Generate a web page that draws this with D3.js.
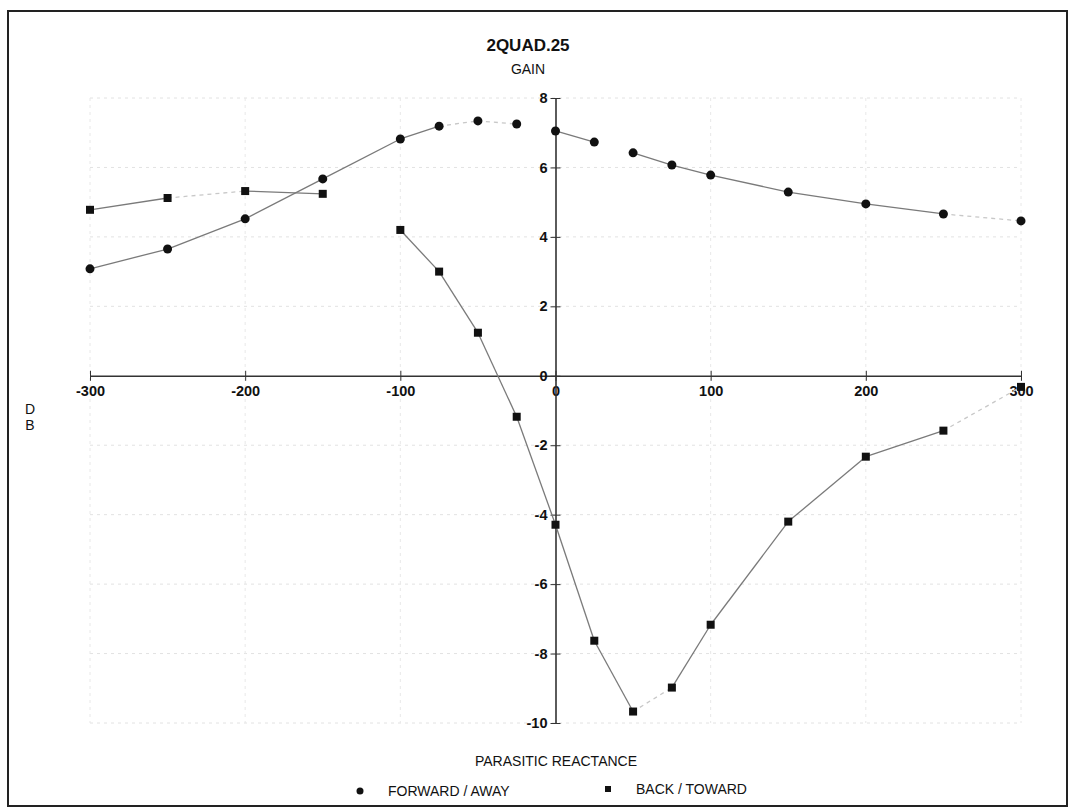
<!DOCTYPE html>
<html>
<head>
<meta charset="utf-8">
<script src="https://cdn.jsdelivr.net/npm/d3@7"></script>
<style>
  body { margin: 0; background: #fff; }
  text { font-family: "Liberation Sans", Arial, sans-serif; fill: #111; }
  .tick text { font-size: 14.5px; }
</style>
</head>
<body>
<script>
// Chart data
var reactance = [-300, -250, -200, -150, -100, -75, -50, -25, 0, 25, 50, 75, 100, 150, 200, 250, 300];
var forwardGain = [3.08, 3.65, 4.52, 5.67, 6.82, 7.19, 7.34, 7.25, 7.05, 6.73, 6.42, 6.07, 5.78, 5.29, 4.95, 4.66, 4.46];
var backGain = [4.78, 5.12, 5.32, 5.24, 4.2, 3.0, 1.24, -1.18, -4.29, -7.63, -9.67, -8.98, -7.17, -4.2, -2.33, -1.58, -0.32];
var xTicks = [-300, -200, -100, 0, 100, 200, 300];
var yTicks = [-10, -8, -6, -4, -2, 0, 2, 4, 6, 8];

// segments that came out faint or missing on the scan (by starting x)
var forwardFaint = [-75, -50, 250];
var forwardGaps = [-25, 25];
var backFaint = [-250, 50, 250];
var backGaps = [-150];

var svgWidth = 1071;
var svgHeight = 811;

var svg = d3.select("body")
  .append("svg")
  .attr("width", svgWidth)
  .attr("height", svgHeight);

// outer frame
svg.append("rect")
  .attr("x", 8).attr("y", 11)
  .attr("width", 1059).attr("height", 795)
  .attr("fill", "#fff")
  .attr("stroke", "#222")
  .attr("stroke-width", 2);

var xScale = d3.scaleLinear().domain([-300, 300]).range([90, 1021]);
var yScale = d3.scaleLinear().domain([-10, 8]).range([723, 98]);

// faint grid
svg.append("g")
  .selectAll("line")
  .data(yTicks.filter(d => d != 0))
  .enter()
  .append("line")
  .attr("x1", xScale(-300)).attr("x2", xScale(300))
  .attr("y1", d => yScale(d)).attr("y2", d => yScale(d))
  .attr("stroke", "#e2e2e2")
  .attr("stroke-dasharray", "3,4");

svg.append("g")
  .selectAll("line")
  .data(xTicks.filter(d => d != 0))
  .enter()
  .append("line")
  .attr("x1", d => xScale(d)).attr("x2", d => xScale(d))
  .attr("y1", yScale(8)).attr("y2", yScale(-10))
  .attr("stroke", "#e8e8e8")
  .attr("stroke-dasharray", "3,4");

// axes crossing at the origin, plain hyphen for negatives like the original
var bottomAxis = d3.axisBottom(xScale).tickValues(xTicks).tickSize(5).tickSizeOuter(0).tickFormat(d => String(d));
var leftAxis = d3.axisLeft(yScale).tickValues(yTicks).tickSize(5).tickSizeOuter(0).tickFormat(d => String(d));

var xAxisG = svg.append("g")
  .attr("transform", `translate(0, ${yScale(0)})`)
  .call(bottomAxis);
xAxisG.select(".domain").attr("stroke", "#333").attr("stroke-width", 1.6);
xAxisG.selectAll(".tick line").attr("y1", -5).attr("y2", 5).attr("stroke", "#333");
xAxisG.selectAll(".tick text").attr("y", 10).attr("font-weight", "bold").attr("fill", "#222");

var yAxisG = svg.append("g")
  .attr("transform", `translate(${xScale(0)}, 0)`)
  .call(leftAxis);
yAxisG.select(".domain").attr("stroke", "#333").attr("stroke-width", 1.6);
yAxisG.selectAll(".tick line").attr("x1", -5).attr("x2", 5).attr("stroke", "#333");
yAxisG.selectAll(".tick text").attr("x", -8).attr("font-weight", "bold").attr("fill", "#222");

// line segments between neighbouring points
function drawSeries(values, faint, gaps) {
  var pts = reactance.map((x, i) => ({ x: x, y: values[i] }));
  var segs = d3.pairs(pts).filter(p => gaps.indexOf(p[0].x) < 0);
  svg.append("g")
    .selectAll("line")
    .data(segs)
    .enter()
    .append("line")
    .attr("x1", d => xScale(d[0].x)).attr("y1", d => yScale(d[0].y))
    .attr("x2", d => xScale(d[1].x)).attr("y2", d => yScale(d[1].y))
    .attr("stroke", d => faint.indexOf(d[0].x) >= 0 ? "#c8c8c8" : "#7a7a7a")
    .attr("stroke-dasharray", d => faint.indexOf(d[0].x) >= 0 ? "4,4" : null)
    .attr("stroke-width", 1.3);
  return pts;
}

var fwdPts = drawSeries(forwardGain, forwardFaint, forwardGaps);
var backPts = drawSeries(backGain, backFaint, backGaps);

svg.append("g")
  .selectAll("circle")
  .data(fwdPts)
  .enter()
  .append("circle")
  .attr("cx", d => xScale(d.x))
  .attr("cy", d => yScale(d.y))
  .attr("r", 4.5)
  .attr("fill", "#111");

svg.append("g")
  .selectAll("rect")
  .data(backPts)
  .enter()
  .append("rect")
  .attr("x", d => xScale(d.x) - 4)
  .attr("y", d => yScale(d.y) - 4)
  .attr("width", 8)
  .attr("height", 8)
  .attr("fill", "#111");

// titles
svg.append("text")
  .attr("x", 528).attr("y", 51)
  .attr("text-anchor", "middle")
  .style("font-family", "'Liberation Sans Narrow', 'Liberation Sans', sans-serif")
  .style("font-weight", "bold")
  .style("font-size", "17px")
  .text("2QUAD.25");

svg.append("text")
  .attr("x", 528).attr("y", 74)
  .attr("text-anchor", "middle")
  .style("font-family", "'Liberation Sans Narrow', 'Liberation Sans', sans-serif")
  .style("font-size", "14px")
  .text("GAIN");

svg.append("text").attr("x", 30).attr("y", 414).attr("text-anchor", "middle").style("font-size", "14px").text("D");
svg.append("text").attr("x", 30).attr("y", 430).attr("text-anchor", "middle").style("font-size", "14px").text("B");

svg.append("text")
  .attr("x", 556).attr("y", 766)
  .attr("text-anchor", "middle")
  .style("font-size", "14px")
  .text("PARASITIC REACTANCE");

// legend
var legend = svg.append("g").attr("transform", "translate(0, 791)");
legend.append("circle").attr("cx", 360).attr("cy", 0).attr("r", 3.5).attr("fill", "#111");
legend.append("text").attr("x", 388).attr("y", 5).style("font-size", "14px").text("FORWARD / AWAY");
legend.append("rect").attr("x", 605).attr("y", -5).attr("width", 6).attr("height", 6).attr("fill", "#111");
legend.append("text").attr("x", 636).attr("y", 3).style("font-size", "14px").text("BACK / TOWARD");
</script>
</body>
</html>
